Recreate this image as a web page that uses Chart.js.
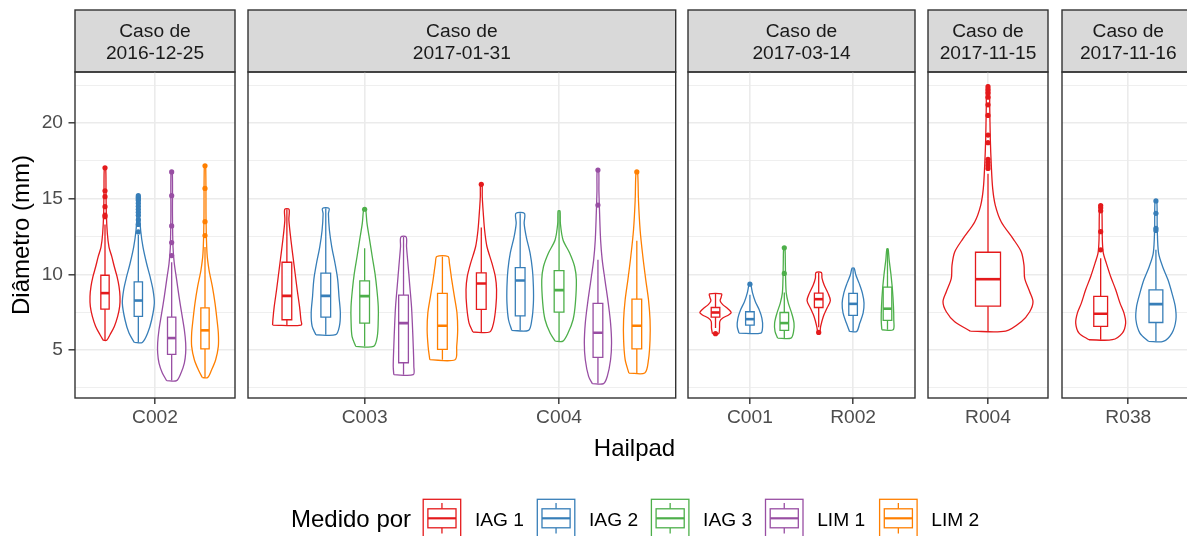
<!DOCTYPE html>
<html><head><meta charset="utf-8">
<script src="https://cdn.jsdelivr.net/npm/chart.js@4.4.1/dist/chart.umd.min.js"></script>
<style>
html,body{margin:0;padding:0;background:#fff;overflow:hidden;}
#wrap{position:relative;width:1187px;height:536px;overflow:hidden;background:#fff;}
#wrap canvas{position:absolute;top:0;}
#wrap svg{position:absolute;left:0;top:0;}
</style></head><body><div id="wrap"></div>
<script>
// ---------------- data ----------------
const medidores = ['IAG 1','IAG 2','IAG 3','LIM 1','LIM 2'];
const casos = ['2016-12-25','2017-01-31','2017-03-14','2017-11-15','2017-11-16'];
const hailpadsPorCaso = [['C002'],['C003','C004'],['C001','R002'],['R004'],['R038']];
const yTicks = [5,10,15,20];

// boxes: [whisker low, Q1, median, Q3, whisker high]; violins: [diameter, half width]
const C002_medidores = ['IAG 1','IAG 2','LIM 1','LIM 2'];
const C002_cajas = [[5.64,7.70,8.76,9.94,13.3],[5.5,7.22,8.27,9.5,12.6],[2.98,4.71,5.79,7.18,10.8],[3.18,5.07,6.3,7.79,11.8]];
const C002_atipicos = [[13.81,13.92,14.47,15.13,15.52,17.04],[12.8,13.3,13.6,13.9,14.1,14.3,14.5,14.7,14.9,15.0,15.1,15.2],[11.24,12.1,13.2,15.2,16.77],[12.56,13.48,15.68,17.17]];
const C002_violines = [
  [[5.64,.0125],[6.01,.0375],[6.56,.07],[7.22,.095],[7.88,.11],[8.54,.1125],[9.2,.105],[9.86,.09],[10.5,.07],[11.2,.05],[11.8,.03],[12.7,.0175],[14.0,.01],[15.6,.0075],[17.04,.005]],
  [[5.5,.03],[6.12,.07],[7.0,.1],[8.1,.12],[8.98,.11],[9.86,.0875],[10.7,.0625],[11.8,.035],[12.9,.0175],[14.0,.01],[15.2,.0075]],
  [[2.98,.0375],[3.48,.07],[4.14,.095],[4.8,.105],[5.46,.105],[6.34,.095],[7.44,.075],[8.54,.055],[9.64,.0375],[10.7,.02],[11.8,.01],[14.0,.006],[16.77,.005]],
  [[3.18,.02],[3.7,.05],[4.36,.08],[5.24,.1],[6.12,.1],[7.0,.09],[8.1,.075],[9.2,.055],[10.3,.03],[11.4,.015],[13.5,.008],[17.17,.005]]
];

const C003_medidores = ['IAG 1','IAG 2','IAG 3','LIM 1','LIM 2'];
const C003_cajas = [[6.65,7.0,8.58,10.8,14.3],[6.01,7.18,8.58,10.08,14.36],[5.24,6.78,8.56,9.57,11.73],[3.37,4.16,6.78,8.63,12.47],[4.36,5.04,6.6,8.74,11.18]];
const C003_atipicos = [[],[],[14.3],[],[]];
const C003_violines = [
  [[6.65,.0735],[7.0,.072],[7.88,.065],[8.98,.053],[10.5,.038],[12.3,.0205],[13.6,.0103],[14.3,.011]],
  [[6.01,.051],[6.56,.07],[7.44,.075],[8.54,.068],[9.64,.0615],[10.7,.048],[11.8,.031],[12.9,.019],[14.0,.0137],[14.36,.017]],
  [[5.24,.046],[5.9,.065],[7.0,.07],[7.88,.07],[8.98,.063],[10.08,.053],[11.18,.039],[12.28,.0256],[13.38,.012],[14.15,.0068],[14.3,.004]],
  [[3.37,.05],[3.92,.053],[5.24,.05],[6.56,.046],[7.88,.041],[9.2,.0325],[10.52,.024],[11.84,.0154],[12.47,.0137]],
  [[4.36,.065],[5.24,.0735],[6.34,.0786],[7.44,.075],[8.54,.0615],[9.64,.048],[10.74,.036],[11.18,.029]]
];

const C004_medidores = ['IAG 1','IAG 2','IAG 3','LIM 1','LIM 2'];
const C004_cajas = [[6.19,7.68,9.4,10.1,13.09],[6.3,7.26,9.59,10.45,14.03],[5.59,7.5,8.96,10.25,14.19],[2.78,4.52,6.14,8.08,10.96],[3.48,5.07,6.6,8.36,12.22]];
const C004_atipicos = [[15.95],[],[],[14.58,16.89],[16.77]];
const C004_violines = [
  [[6.19,.043],[6.78,.063],[7.88,.075],[8.98,.0786],[9.86,.072],[10.74,.0547],[11.84,.029],[12.93,.017],[14.03,.0103],[15.13,.005],[15.95,.004]],
  [[6.3,.043],[7.0,.06],[8.1,.068],[9.2,.068],[10.3,.063],[11.4,.051],[12.5,.031],[13.37,.0205],[14.03,.022]],
  [[5.59,.02],[6.12,.046],[7.0,.072],[8.1,.084],[9.64,.089],[10.52,.08],[11.4,.055],[12.27,.0205],[13.37,.0068],[14.19,.005]],
  [[2.78,.029],[3.26,.048],[4.36,.065],[5.46,.07],[6.78,.065],[8.1,.053],[9.64,.036],[10.96,.022],[12.27,.0137],[14.03,.0085],[15.5,.005],[16.89,.004]],
  [[3.48,.041],[4.36,.06],[5.68,.068],[7.0,.068],[8.32,.06],[9.64,.046],[11.18,.031],[12.93,.017],[14.9,.0085],[16.77,.004]]
];

const C001_medidores = ['IAG 1','IAG 2','IAG 3'];
const C001_cajas = [[6.45,7.18,7.48,7.81,8.71],[6.12,6.65,7.04,7.53,8.65],[5.79,6.3,6.78,7.48,8.8]];
const C001_atipicos = [[6.08],[9.35],[10.06,11.75]];
const C001_violines = [
  [[6.08,.03],[6.45,.039],[6.89,.042],[7.11,.07],[7.33,.13],[7.48,.152],[7.7,.125],[8.0,.07],[8.25,.045],[8.5,.055],[8.71,.058]],
  [[6.12,.106],[6.56,.123],[7.11,.116],[7.66,.09],[8.21,.052],[8.76,.026],[9.2,.013],[9.35,.008]],
  [[5.79,.065],[6.23,.09],[6.78,.094],[7.44,.071],[8.1,.039],[8.76,.019],[9.64,.013],[10.7,.01],[11.75,.006]]
];

const R002_medidores = ['IAG 1','IAG 2','IAG 3'];
const R002_cajas = [[6.5,7.81,8.36,8.76,10.12],[6.23,7.29,8.05,8.74,10.41],[6.34,6.96,7.73,9.15,11.68]];
const R002_atipicos = [[6.16],[],[]];
const R002_violines = [
  [[6.16,.01],[6.56,.019],[7.22,.045],[7.77,.081],[8.27,.113],[8.76,.09],[9.31,.052],[9.75,.032],[10.12,.026]],
  [[6.23,.035],[6.78,.065],[7.44,.097],[8.1,.106],[8.76,.09],[9.42,.058],[9.97,.026],[10.41,.01]],
  [[6.34,.055],[7.0,.061],[7.88,.058],[8.98,.048],[10.08,.032],[10.96,.016],[11.68,.006]]
];

const R004_medidores = ['IAG 1'];
const R004_cajas = [[6.25,7.9,9.68,11.46,16.65]];
const R004_atipicos = [[17.0,17.2,17.4,17.6,18.7,19.2,20.5,21.2,21.7,22.0,22.2,22.4]];
const R004_violines = [
  [[6.25,.177],[6.87,.333],[7.53,.417],[8.19,.45],[8.85,.417],[9.73,.367],[10.6,.36],[11.48,.333],[12.36,.25],[13.46,.133],[14.56,.073],[15.66,.047],[17.2,.033],[18.96,.023],[21.15,.017],[22.47,.013]]
];

const R038_medidores = ['IAG 1','IAG 2'];
const R038_cajas = [[5.68,6.56,7.4,8.54,11.07],[5.57,6.82,8.03,8.98,11.62]];
const R038_atipicos = [[11.62,12.82,14.2,14.4,14.55],[12.9,13.04,14.03,14.85]];
const R038_violines = [
  [[5.68,.106],[6.12,.196],[6.78,.226],[7.44,.211],[8.1,.175],[8.98,.136],[9.86,.09],[10.74,.051],[11.4,.024],[12.27,.015],[14.58,.009]],
  [[5.57,.066],[6.12,.145],[7.0,.181],[7.88,.175],[8.76,.145],[9.64,.109],[10.52,.06],[11.4,.024],[12.93,.012],[14.85,.008]]
];

// ---------------- styles / layout ----------------
const colores = ['#E41A1C','#377EB8','#4DAF4A','#984EA3','#FF7F00'];
const FONT = '"Liberation Sans", Arial, Helvetica, sans-serif';
const panelLayout = [[75,235],[248,675.7],[688.3,915.7],[928.3,1048.3],[1061.7,1194.3]];

const hailpadData = {
  C002:{med:C002_medidores,cajas:C002_cajas,out:C002_atipicos,vio:C002_violines},
  C003:{med:C003_medidores,cajas:C003_cajas,out:C003_atipicos,vio:C003_violines},
  C004:{med:C004_medidores,cajas:C004_cajas,out:C004_atipicos,vio:C004_violines},
  C001:{med:C001_medidores,cajas:C001_cajas,out:C001_atipicos,vio:C001_violines},
  R002:{med:R002_medidores,cajas:R002_cajas,out:R002_atipicos,vio:R002_violines},
  R004:{med:R004_medidores,cajas:R004_cajas,out:R004_atipicos,vio:R004_violines},
  R038:{med:R038_medidores,cajas:R038_cajas,out:R038_atipicos,vio:R038_violines}
};

const yGrid = [];
for (let i = 0; i < yTicks.length; i++) { yGrid.push(yTicks[i] - 2.5, yTicks[i]); }
yGrid.push(yTicks[yTicks.length-1] + 2.5);
const isMajor = v => yTicks.includes(v);

function datasetsFor(hailpads) {
  const ds = [];
  hailpads.forEach((hp, h) => {
    const d = hailpadData[hp];
    const k = d.med.length;
    d.med.forEach((m, j) => {
      const col = colores[medidores.indexOf(m)];
      const cx = h + 1 + (j - (k - 1) / 2) / k;
      const bw = 0.125 / k;
      const prof = d.vio[j];
      const left = prof.map(p => ({x: cx - p[1], y: p[0]}));
      const right = prof.slice().reverse().map(p => ({x: cx + p[1], y: p[0]}));
      ds.push({data: left.concat(right, [left[0]]), borderColor: col, borderWidth: 1.3,
        backgroundColor: '#FFFFFF', fill: 'shape', tension: 0.3, pointRadius: 0, order: 3});
      const [lo, q1, me, q3, hi] = d.cajas[j];
      ds.push({data: [{x:cx-bw,y:q1},{x:cx+bw,y:q1},{x:cx+bw,y:q3},{x:cx-bw,y:q3},{x:cx-bw,y:q1}],
        borderColor: col, borderWidth: 1.3, backgroundColor: '#FFFFFF', fill: 'shape', tension: 0,
        borderCapStyle: 'square', pointRadius: 0, order: 2});
      ds.push({data: [{x:cx,y:lo},{x:cx,y:q1},{x:cx,y:null},{x:cx,y:q3},{x:cx,y:hi}],
        borderColor: col, borderWidth: 1.3, fill: false, tension: 0, spanGaps: false, pointRadius: 0, order: 1});
      ds.push({data: [{x:cx-bw,y:me},{x:cx+bw,y:me}], borderColor: col, borderWidth: 2.6,
        fill: false, tension: 0, pointRadius: 0, order: 1});
      if (d.out[j].length) {
        ds.push({data: d.out[j].map(v => ({x: cx, y: v})), showLine: false, pointRadius: 2.6,
          pointBackgroundColor: col, pointBorderWidth: 0, borderColor: col, backgroundColor: col, order: 0});
      }
    });
  });
  return ds;
}

function panelPlugin(caso) {
  return {
    id: 'panelFrame',
    beforeDraw(chart) {
      const a = chart.chartArea, ctx = chart.ctx;
      ctx.save();
      ctx.fillStyle = '#D9D9D9';
      ctx.fillRect(a.left, 10, a.right - a.left, a.top - 10);
      ctx.strokeStyle = '#333333';
      ctx.lineWidth = 1.4;
      ctx.strokeRect(a.left, 10, a.right - a.left, a.top - 10);
      ctx.fillStyle = '#1A1A1A';
      ctx.font = '19.2px ' + FONT;
      ctx.textAlign = 'center';
      ctx.textBaseline = 'alphabetic';
      const cx = (a.left + a.right) / 2;
      ctx.fillText('Caso de', cx, 37.4);
      ctx.fillText(caso, cx, 59.2);
      ctx.restore();
    },
    afterDatasetsDraw(chart) {
      const a = chart.chartArea, ctx = chart.ctx;
      ctx.save();
      ctx.strokeStyle = '#333333';
      ctx.lineWidth = 1.4;
      ctx.strokeRect(a.left, a.top, a.right - a.left, a.bottom - a.top);
      ctx.restore();
    }
  };
}

const wrap = document.getElementById('wrap');
const H = 440;
hailpadsPorCaso.forEach((hps, p) => {
  const first = p === 0;
  const [pl, pr] = panelLayout[p];
  const cvLeft = first ? 0 : pl - 4;
  const cvW = Math.round((pr + 4) - cvLeft);
  const cv = document.createElement('canvas');
  cv.width = cvW; cv.height = H;
  cv.style.width = cvW + 'px'; cv.style.height = H + 'px';
  cv.style.left = cvLeft + 'px';
  wrap.appendChild(cv);
  const padLeft = first ? 0 : (pl - cvLeft);
  const padRight = cvW - (pr - cvLeft);
  new Chart(cv.getContext('2d'), {
    type: 'line',
    data: {datasets: datasetsFor(hps)},
    options: {
      responsive: false, animation: false, events: [],
      devicePixelRatio: 1,
      layout: {padding: {top: 72, left: padLeft, right: padRight, bottom: 0}},
      plugins: {legend: {display: false}, tooltip: {enabled: false}, title: {display: false}},
      scales: {
        x: {
          type: 'linear', position: 'bottom', min: 0.4, max: hps.length + 0.6,
          afterBuildTicks: s => { s.ticks = hps.map((_, i) => ({value: i + 1})); },
          afterFit: s => { s.height = 42; },
          ticks: {autoSkip: false, maxRotation: 0, minRotation: 0, padding: 2, color: '#4D4D4D',
            font: {family: FONT, size: 19.2}, callback: (v, i) => hps[i]},
          grid: {color: '#EBEBEB', lineWidth: 1.6, drawTicks: true, tickLength: 6,
            tickColor: '#333333', tickWidth: 1.4},
          border: {display: false}
        },
        y: {
          type: 'linear', min: 1.83, max: 23.37,
          afterBuildTicks: s => { s.ticks = yGrid.map(v => ({value: v})); },
          afterFit: s => { s.width = first ? 75 : 0; },
          ticks: {display: first, padding: 5.5, color: '#4D4D4D', font: {family: FONT, size: 19.2},
            callback: v => isMajor(v) ? String(v) : ''},
          grid: {color: '#EBEBEB',
            lineWidth: c => (c.tick && isMajor(c.tick.value)) ? 1.6 : 0.8,
            drawTicks: first, tickLength: 6.5,
            tickColor: c => (c.tick && isMajor(c.tick.value)) ? '#333333' : 'rgba(0,0,0,0)',
            tickWidth: 1.4},
          border: {display: false},
          title: {display: first, text: 'Diâmetro (mm)', color: '#000000',
            font: {family: FONT, size: 24}, padding: {top: 8, bottom: 0}}
        }
      }
    },
    plugins: [panelPlugin(casos[p])]
  });
});

// ---------------- x title + legend (text as SVG text) ----------------
const NS = 'http://www.w3.org/2000/svg';
const svg = document.createElementNS(NS, 'svg');
svg.setAttribute('width', '1187'); svg.setAttribute('height', '536');
function el(tag, attrs, text) {
  const e = document.createElementNS(NS, tag);
  for (const k in attrs) e.setAttribute(k, attrs[k]);
  if (text !== undefined) e.textContent = text;
  svg.appendChild(e);
  return e;
}
const ff = 'Liberation Sans, Arial, Helvetica, sans-serif';
el('text', {x: 634.5, y: 455.6, 'text-anchor': 'middle', 'font-family': ff, 'font-size': 24, fill: '#000'}, 'Hailpad');
el('text', {x: 291, y: 527.2, 'font-family': ff, 'font-size': 24, fill: '#000'}, 'Medido por');
medidores.forEach((m, i) => {
  const col = colores[i];
  const kx = 423.2 + i * 114.1, ky = 499.3, kw = 37.5, kh = 38;
  el('rect', {x: kx, y: ky, width: kw, height: kh, fill: '#fff', stroke: col, 'stroke-width': 1.3});
  const cx = kx + kw / 2;
  el('line', {x1: cx, y1: ky + 0.1 * kh, x2: cx, y2: ky + 0.25 * kh, stroke: col, 'stroke-width': 1.3});
  el('line', {x1: cx, y1: ky + 0.75 * kh, x2: cx, y2: ky + 0.9 * kh, stroke: col, 'stroke-width': 1.3});
  el('rect', {x: kx + 0.125 * kw, y: ky + 0.25 * kh, width: 0.75 * kw, height: 0.5 * kh, fill: '#fff', stroke: col, 'stroke-width': 1.3});
  el('line', {x1: kx + 0.125 * kw, y1: ky + 0.5 * kh, x2: kx + 0.875 * kw, y2: ky + 0.5 * kh, stroke: col, 'stroke-width': 2.2});
  el('text', {x: kx + 51.7, y: 526.3, 'font-family': ff, 'font-size': 19.2, fill: '#000'}, m);
});
wrap.appendChild(svg);
</script>
</body></html>
